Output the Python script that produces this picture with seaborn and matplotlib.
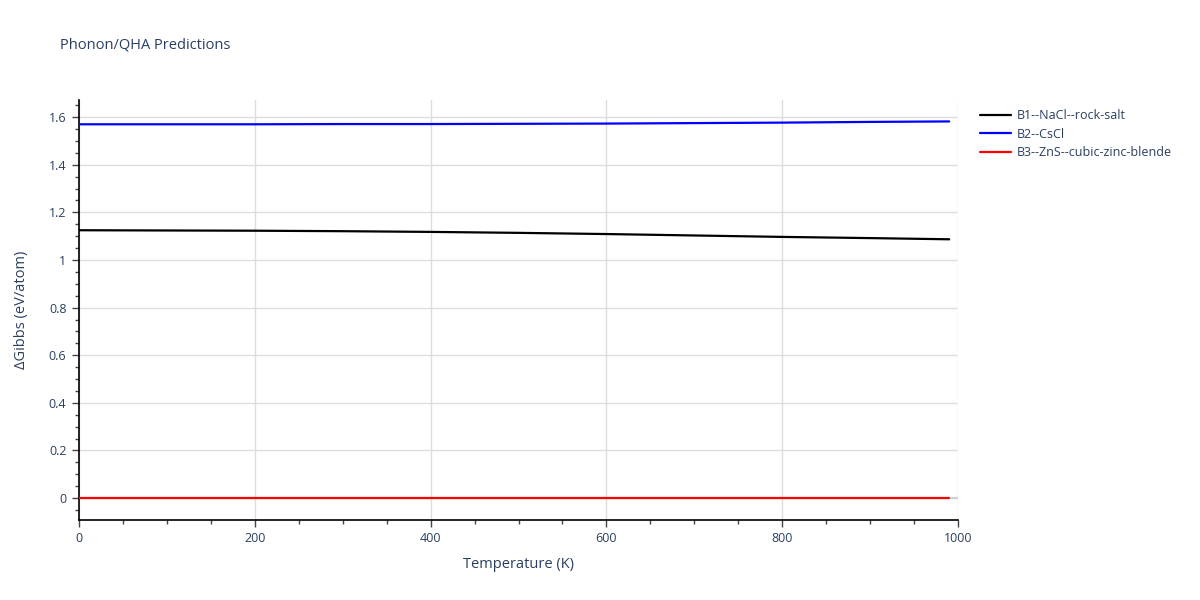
import numpy as np
import pandas as pd
import matplotlib
matplotlib.use("Agg")
import matplotlib.pyplot as plt
from matplotlib.ticker import MultipleLocator
from matplotlib.lines import Line2D
import seaborn as sns

temperature = [0, 100, 200, 300, 400, 500, 600, 700, 800, 900, 990]
b1_rocksalt = [1.125, 1.124, 1.123, 1.121, 1.118, 1.114, 1.109, 1.103, 1.097, 1.092, 1.087]
b2_cscl = [1.570, 1.570, 1.570, 1.571, 1.571, 1.572, 1.573, 1.575, 1.577, 1.580, 1.582]
b3_zincblende = [0.0] * len(temperature)
series_names = ["B1--NaCl--rock-salt", "B2--CsCl", "B3--ZnS--cubic-zinc-blende"]
series_colors = ["#000000", "#0000ff", "#ff0000"]

df = pd.concat([
    pd.DataFrame({"T": temperature, "G": vals, "phase": name})
    for name, vals in zip(series_names, [b1_rocksalt, b2_cscl, b3_zincblende])
])

sns.set_theme(style="white")
plt.rcParams["font.family"] = ["Open Sans", "DejaVu Sans"]
text_color = "#2a3f5f"

fig = plt.figure(figsize=(12, 6), dpi=100)
ax = fig.add_axes([79/1200, 1 - 520/600, (958-79)/1200, (520-100)/600])

ax.axhline(0, color="#cccccc", lw=1.2, zorder=1)
sns.lineplot(data=df, x="T", y="G", hue="phase", palette=series_colors,
             hue_order=series_names, ax=ax, lw=1.6, legend=False, zorder=3)

ax.set_xlim(0, 1000)
ax.set_ylim(-0.092, 1.672)
ax.xaxis.set_major_locator(MultipleLocator(200))
ax.xaxis.set_minor_locator(MultipleLocator(50))
ax.yaxis.set_major_locator(MultipleLocator(0.2))
ax.yaxis.set_minor_locator(MultipleLocator(0.05))
ax.grid(True, which="major", color="#dddddd", lw=1)
ax.set_axisbelow(True)

def yfmt(v, p):
    s = f"{v:.1f}"
    if s in ("0.0", "-0.0"):
        return "0"
    if s.endswith(".0"):
        return s[:-2]
    return s
ax.yaxis.set_major_formatter(plt.FuncFormatter(yfmt))

for side in ["top", "right"]:
    ax.spines[side].set_visible(False)
for side in ["left", "bottom"]:
    ax.spines[side].set_color("#000000")
    ax.spines[side].set_linewidth(1.2)

ax.tick_params(axis="both", which="major", direction="out", length=5, width=1,
               color="#444444", labelcolor=text_color, labelsize=9, pad=4)
ax.tick_params(axis="both", which="minor", direction="out", length=3, width=1,
               color="#444444")
ax.tick_params(axis="y", which="both", left=True)
ax.tick_params(axis="x", which="both", bottom=True)

ax.set_xlabel("Temperature (K)", color=text_color, fontsize=10.5, labelpad=8)
ax.set_ylabel("ΔGibbs (eV/atom)", color=text_color, fontsize=10.5, labelpad=14)

fig.text(60/1200, 1 - 45/600, "Phonon/QHA Predictions", color=text_color,
         fontsize=10.5, va="center", ha="left")

handles = [Line2D([0], [0], color=c, lw=1.6) for c in series_colors]
fig.legend(handles, series_names, loc="upper left",
           bbox_to_anchor=(980/1200, 1 - 109/600), frameon=False,
           fontsize=9, labelcolor=text_color, handlelength=2.5,
           handletextpad=0.45, labelspacing=0.45, borderaxespad=0, borderpad=0)

fig.savefig("out.png", dpi=100, facecolor="white")
